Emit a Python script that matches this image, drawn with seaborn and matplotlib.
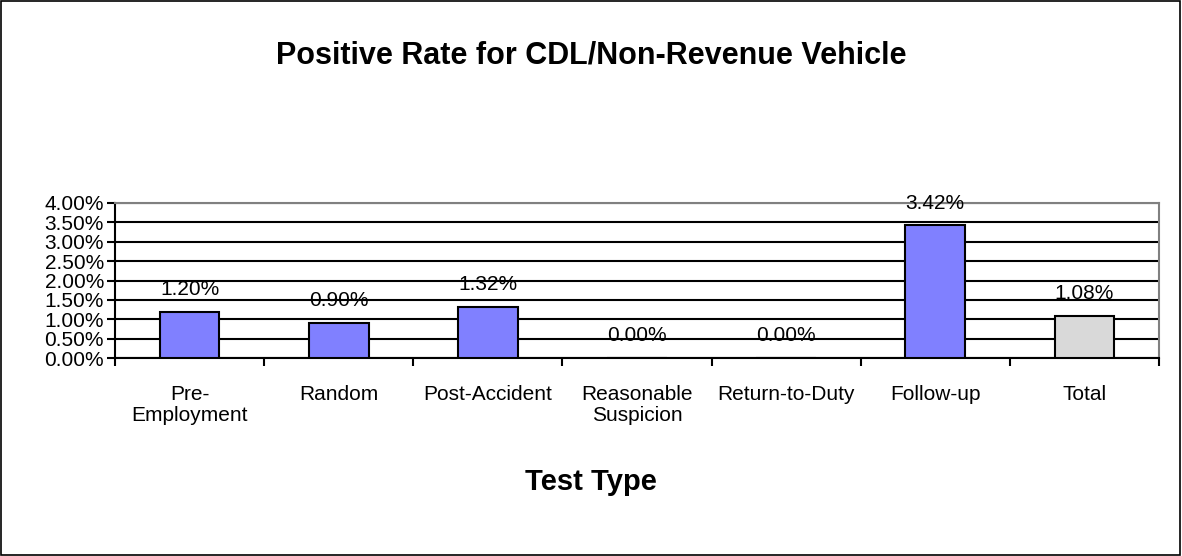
import matplotlib
matplotlib.use("Agg")
import matplotlib.pyplot as plt
import seaborn as sns
from matplotlib.patches import Rectangle
from matplotlib.ticker import FuncFormatter, MultipleLocator

test_types = ["Pre-\nEmployment", "Random", "Post-Accident", "Reasonable\nSuspicion",
              "Return-to-Duty", "Follow-up", "Total"]
positive_rate = [1.20, 0.90, 1.32, 0.00, 0.00, 3.42, 1.08]
bar_colors = ["#8080FF", "#8080FF", "#8080FF", "#8080FF", "#8080FF", "#8080FF", "#D9D9D9"]

sns.set_style("white")
plt.rcParams['font.family'] = ['Liberation Sans', 'DejaVu Sans']
plt.rcParams['text.color'] = 'black'
plt.rcParams['xtick.color'] = 'black'
plt.rcParams['ytick.color'] = 'black'

fig = plt.figure(figsize=(11.82, 5.56), dpi=100)
ax = fig.add_axes([0.0973, 0.356, 0.8832, 0.279])

sns.barplot(x=test_types, y=positive_rate, hue=test_types, palette=bar_colors,
            saturation=1, legend=False, width=0.4, edgecolor="black", linewidth=1.5,
            ax=ax, zorder=3)

ax.set_ylim(0, 4)
ax.set_xlim(-0.5, 6.5)
ax.yaxis.set_major_locator(MultipleLocator(0.5))
ax.yaxis.set_major_formatter(FuncFormatter(lambda v, p: f"{v:.2f}%"))
ax.grid(axis="y", color="black", linewidth=1.5, zorder=0)
ax.set_axisbelow(True)

for s in ["left", "bottom"]:
    ax.spines[s].set_color("black")
    ax.spines[s].set_linewidth(1.5)
for s in ["top", "right"]:
    ax.spines[s].set_color("#808080")
    ax.spines[s].set_linewidth(1.5)

ax.tick_params(axis="y", which="major", left=True, length=6, width=1.5,
               direction="out", labelsize=15, pad=2)
ax.tick_params(axis="x", which="major", bottom=False, labelsize=15, pad=16)
ax.set_xticks([i - 0.5 for i in range(8)], minor=True)
ax.tick_params(axis="x", which="minor", bottom=True, length=6, width=1.5,
               direction="out")
for lbl in ax.get_xticklabels():
    lbl.set_linespacing(1.1)

for i, v in enumerate(positive_rate):
    ax.annotate(f"{v:.2f}%", (i, v), xytext=(0, 16), textcoords="offset points",
                ha="center", va="center", fontsize=15)

ax.set_xlabel("")
ax.set_ylabel("")
fig.text(0.5, 0.901, "Positive Rate for CDL/Non-Revenue Vehicle", ha="center",
         va="center", fontsize=22, fontweight="bold")
fig.text(0.5, 0.133, "Test Type", ha="center", va="center", fontsize=21,
         fontweight="bold")

fig.patches.append(Rectangle((0.001, 0.002), 0.997, 0.996, transform=fig.transFigure,
                             fill=False, edgecolor="black", linewidth=1.2))

fig.savefig("out.png", dpi=100)
